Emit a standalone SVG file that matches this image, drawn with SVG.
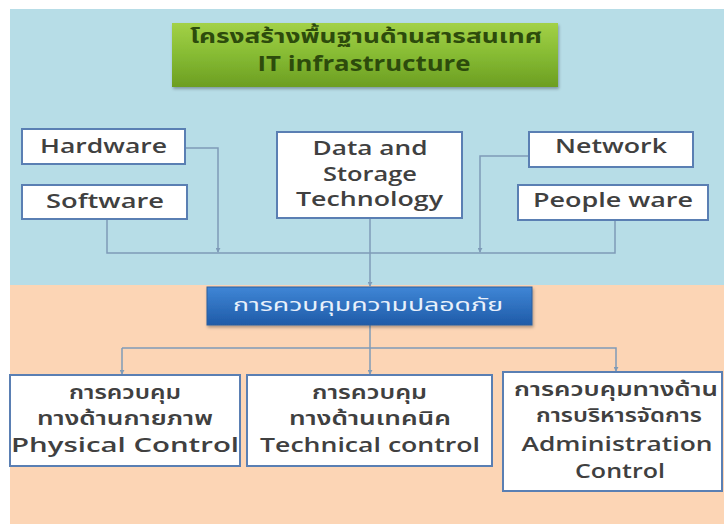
<svg xmlns="http://www.w3.org/2000/svg" width="724" height="524" viewBox="0 0 724 524">
<defs>
<linearGradient id="gGreen" x1="0" y1="0" x2="0" y2="1">
<stop offset="0" stop-color="#a3d147"/>
<stop offset="0.5" stop-color="#86bb33"/>
<stop offset="1" stop-color="#6c9e22"/>
</linearGradient>
<linearGradient id="gBlue" x1="0" y1="0" x2="0" y2="1">
<stop offset="0" stop-color="#3f86d6"/>
<stop offset="1" stop-color="#1f5ba8"/>
</linearGradient>
<filter id="sh" x="-5%" y="-10%" width="110%" height="130%">
<feDropShadow dx="1" dy="2" stdDeviation="1.5" flood-color="#000" flood-opacity="0.3"/>
</filter>
<marker id="ah" viewBox="0 0 6 6" refX="5" refY="3" markerWidth="5" markerHeight="5" orient="auto" markerUnits="userSpaceOnUse">
<path d="M0,0 L6,3 L0,6 z" fill="#7f9bb8"/>
</marker>
</defs>
<style>
.box{fill:#ffffff;stroke:#5a7fb3;stroke-width:2}
.t{font-family:"Open Sans","Noto Sans Thai","Noto Sans",sans-serif;font-weight:600;fill:#404040;text-anchor:middle}
.top{font-size:20px}
.bot{font-size:20px}
.ttl{font-family:"Open Sans","Noto Sans Thai","Noto Sans",sans-serif;font-weight:700;fill:#2d4b0c;text-anchor:middle}
.sec{font-family:"Open Sans","Noto Sans Thai","Noto Sans",sans-serif;font-weight:400;fill:#e8f0fb;text-anchor:middle;font-size:18px}
.ln{fill:none;stroke:#7f9bb8;stroke-width:1.5}
</style>
<rect x="0" y="0" width="724" height="524" fill="#ffffff"/>
<rect x="10" y="9" width="714" height="276" fill="#b7dde7"/>
<rect x="10" y="285" width="714" height="239" fill="#fcd5b5"/>

<g id="connectors">
<path class="ln" d="M185,148 H218 V252" marker-end="url(#ah)"/>
<path class="ln" d="M107,219 V253 H615 V220"/>
<path class="ln" d="M529,156 H480 V252" marker-end="url(#ah)"/>
<path class="ln" d="M370,218 V286" marker-end="url(#ah)"/>
<path class="ln" d="M370,325 V374" marker-end="url(#ah)"/>
<path class="ln" d="M122,348 H616 V371" marker-end="url(#ah)"/>
<path class="ln" d="M122,348 V374" marker-end="url(#ah)"/>
</g>

<g id="title">
<rect x="172" y="23" width="386" height="64" fill="url(#gGreen)" filter="url(#sh)"/>
<text class="ttl" x="366" y="43" font-size="19" textLength="352" lengthAdjust="spacingAndGlyphs">โครงสร้างพื้นฐานด้านสารสนเทศ</text>
<text class="ttl" x="364" y="71" font-size="21" textLength="213" lengthAdjust="spacingAndGlyphs">IT infrastructure</text>
</g>

<g id="hardware">
<rect class="box" x="22" y="129" width="163" height="35"/>
<text class="t top" x="103.5" y="153" textLength="127" lengthAdjust="spacingAndGlyphs">Hardware</text>
</g>
<g id="software">
<rect class="box" x="22" y="185" width="165" height="34"/>
<text class="t top" x="105" y="208" textLength="118" lengthAdjust="spacingAndGlyphs">Software</text>
</g>
<g id="data">
<rect class="box" x="277" y="132" width="185" height="86"/>
<text class="t top" x="370" y="155" textLength="115" lengthAdjust="spacingAndGlyphs">Data and</text>
<text class="t top" x="370" y="181" textLength="94" lengthAdjust="spacingAndGlyphs">Storage</text>
<text class="t top" x="369.5" y="206" textLength="147" lengthAdjust="spacingAndGlyphs">Technology</text>
</g>
<g id="network">
<rect class="box" x="529" y="132" width="164" height="35"/>
<text class="t top" x="611" y="153" textLength="112" lengthAdjust="spacingAndGlyphs">Network</text>
</g>
<g id="peopleware">
<rect class="box" x="518" y="185" width="190" height="35"/>
<text class="t top" x="613" y="207" textLength="160" lengthAdjust="spacingAndGlyphs">People ware</text>
</g>

<g id="security">
<rect x="207" y="287" width="325" height="38" fill="url(#gBlue)" stroke="#2a5f9e" stroke-width="1" filter="url(#sh)"/>
<text class="sec" x="368" y="311" textLength="270" lengthAdjust="spacingAndGlyphs">การควบคุมความปลอดภัย</text>
</g>

<g id="physical">
<rect class="box" x="10" y="375" width="230" height="91"/>
<text class="t bot" x="125" y="399" textLength="112" lengthAdjust="spacingAndGlyphs">การควบคุม</text>
<text class="t bot" x="125" y="425" textLength="176" lengthAdjust="spacingAndGlyphs">ทางด้านกายภาพ</text>
<text class="t bot" x="125" y="452" textLength="228" lengthAdjust="spacingAndGlyphs">Physical Control</text>
</g>
<g id="technical">
<rect class="box" x="247" y="375" width="245" height="91"/>
<text class="t bot" x="369.5" y="399" textLength="115" lengthAdjust="spacingAndGlyphs">การควบคุม</text>
<text class="t bot" x="370" y="425" textLength="162" lengthAdjust="spacingAndGlyphs">ทางด้านเทคนิค</text>
<text class="t bot" x="370" y="452" textLength="220" lengthAdjust="spacingAndGlyphs">Technical control</text>
</g>
<g id="administration">
<rect class="box" x="503" y="372" width="219" height="119"/>
<text class="t bot" x="616" y="396" textLength="204" lengthAdjust="spacingAndGlyphs">การควบคุมทางด้าน</text>
<text class="t bot" x="619" y="422" textLength="166" lengthAdjust="spacingAndGlyphs">การบริหารจัดการ</text>
<text class="t bot" x="617" y="451" font-size="19" textLength="191" lengthAdjust="spacingAndGlyphs">Administration</text>
<text class="t bot" x="620" y="478" font-size="19" textLength="90" lengthAdjust="spacingAndGlyphs">Control</text>
</g>
</svg>
